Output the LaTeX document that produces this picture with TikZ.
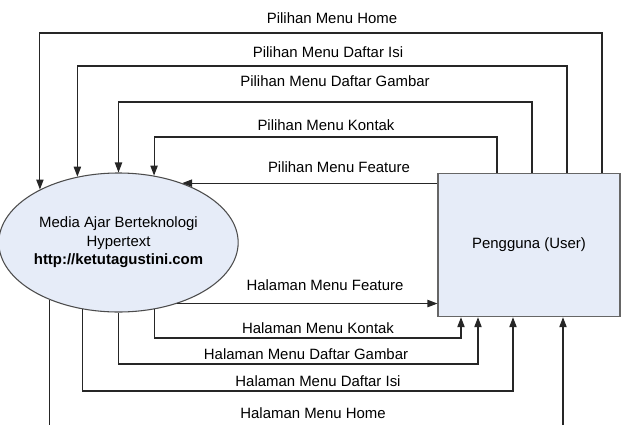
\documentclass[tikz,border=0pt]{standalone}
\usepackage{fontspec}
\setmainfont{Liberation Sans}
\usetikzlibrary{arrows.meta,shapes.geometric}

\definecolor{entfill}{RGB}{230,236,248}

\begin{document}
\begin{tikzpicture}[x=0.75pt,y=-0.75pt,
  font=\fontsize{11.2}{13.9}\selectfont,
  wire/.style={line width=0.8pt,draw=black!85},
  flow/.style={wire,-{Triangle[length=7.5pt,width=5.5pt]}}]
  \useasboundingbox (0,0) rectangle (621,425);

  % Entities
  \node[ellipse,draw=black!70,fill=entfill,line width=0.8pt,inner sep=0pt,
        minimum width=162.75pt,minimum height=104.25pt,align=center]
        (media) at (118.5,242.5)
        {Media Ajar Berteknologi\\ Hypertext\\ \textbf{http://ketutagustini.com}};
  \node[draw=black!60,fill=entfill,line width=0.8pt,
        minimum width=136.5pt,minimum height=107.5pt]
        (user) at (529,245) {Pengguna (User)};

  % Corners of the routed lines
  \coordinate (hmT) at (602,33);   % Pilihan Home
  \coordinate (isT) at (567,66);   % Pilihan Daftar Isi
  \coordinate (gbT) at (532,102);  % Pilihan Daftar Gambar
  \coordinate (ktT) at (497,137);  % Pilihan Kontak
  \coordinate (ktB) at (461,338);  % Halaman Kontak
  \coordinate (gbB) at (478,364);  % Halaman Daftar Gambar
  \coordinate (isB) at (513,391);  % Halaman Daftar Isi
  \coordinate (hmL) at (52,425);   % Halaman Home, left end
  \coordinate (hmR) at (563,425);  % Halaman Home, right end

  % Pilihan (user -> media)
  \draw[flow] (user.north -| hmT) -- (hmT) -| (media.146.7);
  \draw[flow] (user.north -| isT) -- (isT) -| (media.122.1);
  \draw[flow] (user.north -| gbT) -- (gbT) -| (media.north);
  \draw[flow] (user.north -| ktT) -- (ktT) -| (media.62.4);
  \draw[flow] (media.43.4 -| user.west) -- (media.43.4);

  % Halaman (media -> user)
  \draw[flow] (media.-46.7) -- (media.-46.7 -| user.west);
  \draw[flow] (media.-62.4) |- (ktB) -- (user.south -| ktB);
  \draw[flow] (media.south) |- (gbB) -- (user.south -| gbB);
  \draw[flow] (media.-118.4) |- (isB) -- (user.south -| isB);
  \draw[wire] (media.-140.5) -- (media.-140.5 |- hmL);
  \draw[flow] (hmR) -- (user.south -| hmR);

  % Labels
  \node (lPhm) at (332,18)  {Pilihan Menu Home};
  \node (lPis) at (328,52)  {Pilihan Menu Daftar Isi};
  \node (lPgb) at (335,81)  {Pilihan Menu Daftar Gambar};
  \node (lPkt) at (326,125) {Pilihan Menu Kontak};
  \node (lPft) at (339,167) {Pilihan Menu Feature};
  \node (lHft) at (325,285) {Halaman Menu Feature};
  \node (lHkt) at (318,328) {Halaman Menu Kontak};
  \node (lHgb) at (306,354) {Halaman Menu Daftar Gambar};
  \node (lHis) at (318,381) {Halaman Menu Daftar Isi};
  \node (lHhm) at (313,413) {Halaman Menu Home};
\end{tikzpicture}
\end{document}
